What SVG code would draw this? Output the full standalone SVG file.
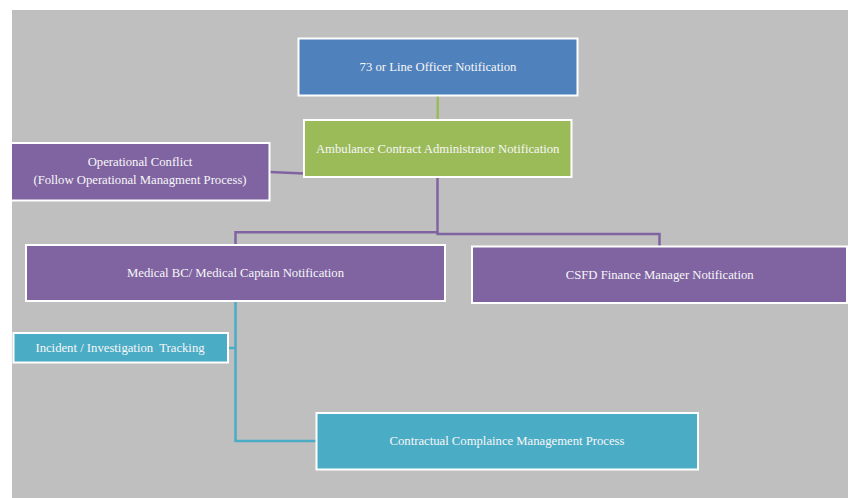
<svg xmlns="http://www.w3.org/2000/svg" width="848" height="498" viewBox="0 0 848 498">
  <style>
    .box { stroke: #ffffff; stroke-width: 2; }
    .blue { fill: #4f81bd; }
    .green { fill: #9bbb59; }
    .purple { fill: #8064a2; }
    .teal { fill: #4bacc6; }
    .lbl { font-family: "Liberation Serif", "Times New Roman", serif; font-size: 12.7px; fill: #f7f7f7; text-anchor: middle; dominant-baseline: central; }
    .cn { fill: none; stroke-width: 2.5; }
  </style>
  <defs>
    <clipPath id="page">
      <rect x="12" y="10" width="836" height="488"/>
    </clipPath>
  </defs>
  <rect x="0" y="0" width="848" height="498" fill="#ffffff"/>
  <rect x="12" y="10" width="836" height="488" fill="#bfbfbf"/>

  <g clip-path="url(#page)">
    <!-- connectors -->
    <g id="connectors">
      <line class="cn" x1="437.7" y1="96" x2="437.7" y2="120" stroke="#9bbb59"/>
      <line class="cn" x1="270" y1="172" x2="304" y2="173.5" stroke="#8064a2"/>
      <polyline class="cn" points="437.5,177 437.5,232.3 235.5,232.3 235.5,245" stroke="#8064a2"/>
      <polyline class="cn" points="437.5,232 437.5,234 659.5,234 659.5,246" stroke="#8064a2"/>
      <polyline class="cn" points="235.5,301 235.5,441 316,441" stroke="#4bacc6"/>
      <line class="cn" x1="228" y1="348" x2="236" y2="348" stroke="#4bacc6"/>
    </g>

    <g id="line-officer">
      <rect class="box blue" x="298.5" y="38.5" width="279" height="57"/>
      <text class="lbl" x="438" y="66.5">73 or Line Officer Notification</text>
    </g>

    <g id="ambulance-admin">
      <rect class="box green" x="304" y="120" width="267.5" height="57"/>
      <text class="lbl" x="437.7" y="148.5">Ambulance Contract Administrator Notification</text>
    </g>

    <g id="operational-conflict">
      <rect class="box purple" x="10" y="143" width="259.5" height="57.5"/>
      <text class="lbl" x="140" y="162">Operational Conflict</text>
      <text class="lbl" x="140" y="179.5">(Follow Operational Managment Process)</text>
    </g>

    <g id="medical-bc">
      <rect class="box purple" x="26" y="245" width="419" height="56"/>
      <text class="lbl" x="235.5" y="273">Medical BC/ Medical Captain Notification</text>
    </g>

    <g id="csfd-finance">
      <rect class="box purple" x="472" y="246.5" width="375" height="56.5"/>
      <text class="lbl" x="659.7" y="274.5">CSFD Finance Manager Notification</text>
    </g>

    <g id="incident-tracking">
      <rect class="box teal" x="13.5" y="333" width="214.5" height="29.5"/>
      <text class="lbl" x="120" y="347.5">Incident / Investigation&#160; Tracking</text>
    </g>

    <g id="contract-compliance">
      <rect class="box teal" x="316.5" y="413" width="381.5" height="56.5"/>
      <text class="lbl" x="507" y="441">Contractual Complaince Management Process</text>
    </g>
  </g>
</svg>
